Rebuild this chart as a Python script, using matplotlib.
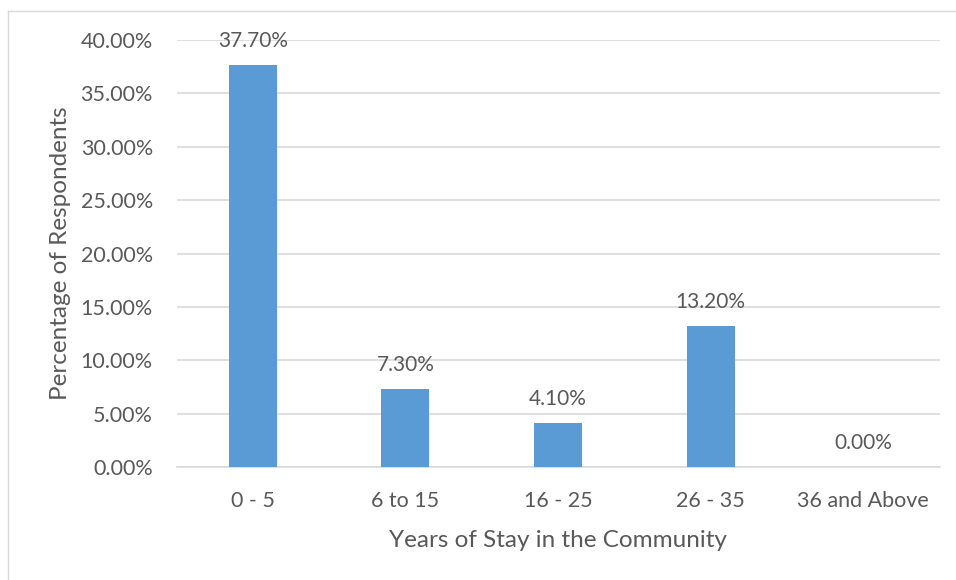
import matplotlib
matplotlib.use("Agg")
import matplotlib.pyplot as plt
from matplotlib.lines import Line2D

categories = ["0 - 5", "6 to 15", "16 - 25", "26 - 35", "36 and Above"]
values = [37.70, 7.30, 4.10, 13.20, 0.00]
yticks = [0, 5, 10, 15, 20, 25, 30, 35, 40]

plt.rcParams['font.family'] = ['Lato', 'DejaVu Sans']
txt = '#595959'

fig = plt.figure(figsize=(9.56, 5.8), dpi=100)
W, H = 956, 580
ax = fig.add_axes([176.5 / W, 1 - 467 / H, (939.5 - 176.5) / W, (467 - 40) / H])

x = list(range(len(categories)))
ax.bar(x, values, width=0.314, color='#5b9bd5', zorder=3)
for xi, v in zip(x, values):
    ax.text(xi, v + 1.3, f"{v:.2f}%", ha='center', va='bottom', fontsize=15, color=txt, zorder=4)

ax.set_xlim(-0.5, len(categories) - 0.5)
ax.set_ylim(0, 40)
ax.set_yticks(yticks)
ax.set_yticklabels([f"{t:.2f}%" for t in yticks])
ax.set_xticks(x)
ax.set_xticklabels(categories)
ax.tick_params(axis='both', length=0, labelsize=15.5, colors=txt)
ax.tick_params(axis='y', pad=17)
ax.tick_params(axis='x', pad=17)
ax.grid(axis='y', color='#d9d9d9', linewidth=1.2, zorder=0)
for s in ['top', 'right', 'left']:
    ax.spines[s].set_visible(False)
ax.spines['bottom'].set_color('#d9d9d9')
ax.spines['bottom'].set_linewidth(1.2)

ax.set_xlabel("Years of Stay in the Community", fontsize=17.5, color=txt, labelpad=14)
ax.set_ylabel("Percentage of Respondents", fontsize=17.5, color=txt, labelpad=7)

# outer chart border
fig.add_artist(Line2D([8 / W, 8 / W], [0, 1 - 11 / H], transform=fig.transFigure, color='#d9d9d9', lw=1))
fig.add_artist(Line2D([8 / W, 1], [1 - 11 / H, 1 - 11 / H], transform=fig.transFigure, color='#d9d9d9', lw=1))

fig.savefig("out.png", dpi=100)
